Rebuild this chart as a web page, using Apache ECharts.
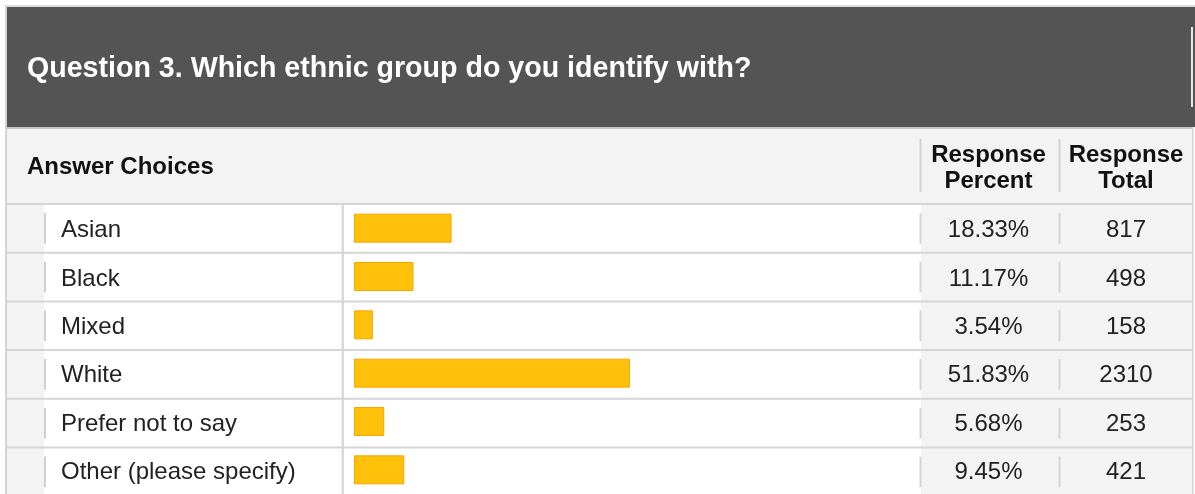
<!DOCTYPE html>
<html>
<head>
<meta charset="utf-8">
<script src="https://cdn.jsdelivr.net/npm/echarts@6/dist/echarts.min.js"></script>
<style>
  html, body { margin: 0; padding: 0; background: #ffffff; }
  #chart { width: 1195px; height: 494px; }
</style>
</head>
<body>
<div id="chart"></div>
<script>
// Survey question 3: ethnic group of respondents
const titleText = 'Question 3. Which ethnic group do you identify with?';
const categories = ['Asian', 'Black', 'Mixed', 'White', 'Prefer not to say', 'Other (please specify)'];
const percents = [18.33, 11.17, 3.54, 51.83, 5.68, 9.45];
const totals = [817, 498, 158, 2310, 253, 421];
const headerChoices = 'Answer Choices';
const headerPercent = 'Response\nPercent';
const headerTotal = 'Response\nTotal';

const FONT = '"Liberation Sans", Arial, Helvetica, sans-serif';
const TEXT = '#222222';
const LINE = '#d6d6d6';
const SHADE = '#f3f3f3';

// table geometry
const rowTop = 204;
const rowH = 48.7;
const nRows = categories.length;
const barLeft = 354;
const barSpan = 532.4;          // width of the 0-100 % scale
const colPct = 988.5;           // centre of percent column
const colTot = 1126;            // centre of total column
const tableRight = 1192;

const chart = echarts.init(document.getElementById('chart'), null, { renderer: 'canvas' });

// background cells and rules of the table
const bg = [];
function rect(x, y, w, h, fill) {
  bg.push({ type: 'rect', z: -10, silent: true, shape: { x, y, width: w, height: h }, style: { fill } });
}
rect(5, 5, 1190, 2, '#dcdcdc');                 // outer top frame
rect(5, 5, 2, 489, '#d4d4d4');                  // outer left frame
rect(7, 7, 1188, 120, '#535453');               // dark title band
rect(1191, 27, 2, 80, '#e6e6e6');
rect(7, 127, tableRight - 7, 2, '#c4c4c4');
rect(7, 129, tableRight - 7, rowTop - 129, SHADE); // column header row
rect(919.5, 139, 2, 53, '#d2d2d2');
rect(1058.5, 139, 2, 53, '#d2d2d2');
rect(7, rowTop, 37, 494 - rowTop, SHADE);       // left stub column
rect(921, rowTop, tableRight - 921, 494 - rowTop, SHADE); // number columns
rect(tableRight, 127, 1.5, 494 - 127, '#d4d4d4');
rect(341.5, rowTop, 2.5, 494 - rowTop, '#d9d9d9');
for (let i = 0; i < nRows; i++) {
  const y0 = rowTop + i * rowH;
  rect(7, y0 - 1, tableRight - 7, 2, LINE);
  rect(44, y0 + 9, 2, rowH - 18, '#d0d0d0');
  rect(919.5, y0 + 9, 2, rowH - 18, '#d4d4d4');
  rect(1058.5, y0 + 9, 2, rowH - 18, '#d4d4d4');
}

const texts = [
  { type: 'text', z: 10, x: 27, y: 69.5,
    style: { text: titleText, fill: '#ffffff', font: 'bold 28.6px ' + FONT, verticalAlign: 'middle' } },
  { type: 'text', z: 10, x: 27, y: 167.5,
    style: { text: headerChoices, fill: '#111111', font: 'bold 24px ' + FONT, verticalAlign: 'middle' } },
  { type: 'text', z: 10, x: colPct, y: 168.5,
    style: { text: headerPercent, fill: '#111111', font: 'bold 24px ' + FONT,
             align: 'center', verticalAlign: 'middle', lineHeight: 26 } },
  { type: 'text', z: 10, x: colTot, y: 168.5,
    style: { text: headerTotal, fill: '#111111', font: 'bold 24px ' + FONT,
             align: 'center', verticalAlign: 'middle', lineHeight: 26 } }
];

const gridRight = barLeft + barSpan;
// row text sits a little below the row's centre line
const cellLabel = (extra) => Object.assign({
  formatter: v => '{c|' + v + '}',
  rich: { c: { fontFamily: FONT, fontSize: 24, color: TEXT, padding: [5, 0, 0, 0] } }
}, extra);

chart.setOption({
  animation: false,
  backgroundColor: '#ffffff',
  grid: { left: barLeft, top: rowTop, width: barSpan, height: rowH * nRows, containLabel: false },
  xAxis: { type: 'value', min: 0, max: 100, show: false },
  yAxis: [
    {
      type: 'category', data: categories, inverse: true, position: 'left',
      axisLine: { show: false }, axisTick: { show: false }, splitLine: { show: false },
      axisLabel: cellLabel({ align: 'left', margin: barLeft - 61 })
    },
    {
      type: 'category', data: percents.map(v => v.toFixed(2) + '%'), inverse: true, position: 'right',
      axisLine: { show: false }, axisTick: { show: false }, splitLine: { show: false },
      axisLabel: cellLabel({ align: 'center', margin: colPct - gridRight })
    },
    {
      type: 'category', data: totals.map(String), inverse: true, position: 'right', offset: 0,
      axisLine: { show: false }, axisTick: { show: false }, splitLine: { show: false },
      axisLabel: cellLabel({ align: 'center', margin: colTot - gridRight })
    }
  ],
  series: [{
    type: 'bar',
    yAxisIndex: 0,
    data: percents,
    barWidth: 29,
    itemStyle: { color: '#ffc109', borderColor: '#f7a500', borderWidth: 1 },
    silent: true
  }],
  graphic: { elements: bg.concat(texts) }
});
</script>
</body>
</html>
